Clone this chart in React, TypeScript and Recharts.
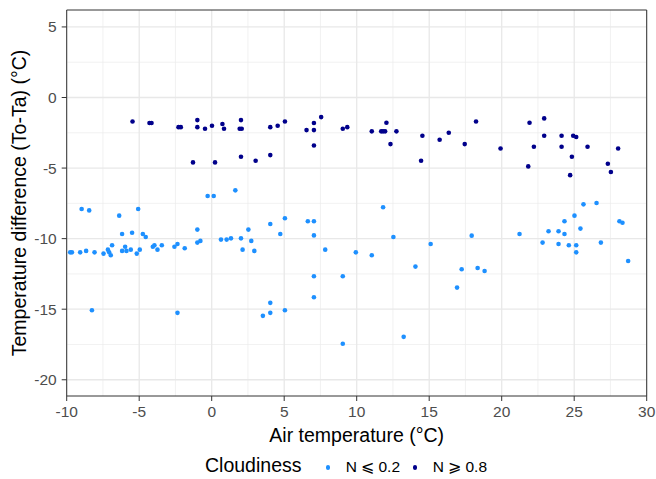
import {
  ScatterChart,
  Scatter,
  XAxis,
  YAxis,
  CartesianGrid,
  ReferenceArea,
  Legend,
  Label,
} from "recharts";

// N <= 0.2 (clear sky)
const clearX = [
  -9.76, -9.64, -9.07, -8.66, -8.08, -8.97, -8.45, -7.46, -7.16, -7.07, -6.96, -6.87, -6.38, -6.18,
  -6.18, -5.97, -5.88, -5.58, -5.49, -5.17, -4.96, -5.07, -4.75, -4.55, -4.06, -3.95, -3.74, -3.44,
  -2.57, -2.36, -1.86, -0.99, -0.99, -0.78, -0.28, 0.14, 0.64, 1.03, 1.33, 1.63, 2.02, 2.13, 2.53,
  2.73, 2.94, 4.04, 4.73, 5.05, 6.63, 7.05, 7.05, 7.83, 9.94, 7.05, 9.04, 11.82, 11.04, 12.53, 14.05,
  15.1, 17.24, 17.93, 18.34, 18.82, 21.23, 22.82, 23.23, 23.92, 23.92, 24.33, 24.33, 24.63, 25.02,
  25.14, 25.14, 25.43, 25.64, 26.54, 26.84, 28.12, 28.33, 28.72, -8.26, -2.36, 3.53, 4.04, 4.04,
  5.05, 7.05, 9.04, 13.24, 16.92,
];
const clearY = [
  -10.97, -10.97, -10.97, -10.87, -10.97, -7.9, -8.0, -11.06, -10.78, -10.97, -11.18, -10.47, -8.37,
  -9.67, -10.87, -10.57, -10.87, -10.78, -9.58, -11.06, -10.78, -7.9, -9.67, -9.88, -10.57, -10.47,
  -10.78, -10.47, -10.57, -10.38, -10.68, -9.36, -10.28, -10.16, -6.98, -6.98, -10.07, -10.07, -9.98,
  -6.58, -9.98, -10.78, -9.36, -10.16, -10.87, -8.96, -9.67, -8.56, -8.77, -8.77, -9.77, -10.78,
  -10.97, -12.67, -12.67, -7.78, -11.18, -9.88, -11.98, -10.38, -12.17, -9.79, -12.08, -12.29, -9.67,
  -10.28, -9.48, -9.48, -10.38, -8.77, -9.67, -10.47, -8.37, -10.47, -10.97, -9.29, -7.57, -7.47,
  -10.28, -8.77, -8.87, -11.58, -15.07, -15.26, -15.47, -14.55, -15.26, -15.07, -14.15, -17.45,
  -16.96, -13.47,
];

// N >= 0.8 (overcast)
const cloudyX = [
  -5.46, -4.29, -4.15, -2.29, -2.13, -0.99, -0.99, -0.46, 0.02, 0.74, 0.85, 2.02, 1.93, 2.07, 4.04,
  4.55, 5.05, 6.54, 7.05, 7.05, 7.55, 7.05, 9.04, 9.35, -1.29, 0.23, 2.02, 3.03, 4.04, 11.04, 11.69,
  11.82, 11.96, 12.05, 12.33, 12.74, 14.53, 14.44, 15.72, 16.35, 17.45, 18.23, 19.92, 21.92, 21.83,
  22.22, 22.93, 22.93, 24.13, 24.13, 24.93, 25.14, 24.84, 24.72, 25.92, 27.32, 27.53, 28.03,
];
const cloudyY = [
  -1.7, -1.81, -1.81, -2.1, -2.1, -1.6, -2.1, -2.21, -2.0, -1.88, -2.21, -1.6, -2.21, -2.21, -2.1,
  -2.0, -1.7, -2.31, -1.81, -2.31, -1.39, -3.4, -2.21, -2.1, -4.6, -4.6, -4.2, -4.48, -4.08, -2.4,
  -2.4, -2.4, -2.4, -1.79, -3.3, -2.4, -2.71, -4.48, -2.99, -2.5, -3.3, -1.7, -3.61, -1.79, -4.88,
  -3.49, -1.48, -2.71, -2.71, -3.49, -2.71, -2.8, -4.2, -5.5, -3.49, -4.69, -5.28, -3.61,
];

const xTicks = [-10, -5, 0, 5, 10, 15, 20, 25, 30];
const xMinor = [-7.5, -2.5, 2.5, 7.5, 12.5, 17.5, 22.5, 27.5];
const yTicks = [-20, -15, -10, -5, 0, 5];
const yMinor = [-17.5, -12.5, -7.5, -2.5, 2.5];

const X_DOMAIN: [number, number] = [-10, 30];
const Y_DOMAIN: [number, number] = [-21.15, 6.2];

const CLEAR_COLOR = "#1E90FF";
const CLOUDY_COLOR = "#00008B";
const FONT = "'Liberation Sans', Arial, sans-serif";

const clearData = clearX.map((x, i) => ({ x, y: clearY[i] }));
const cloudyData = cloudyX.map((x, i) => ({ x, y: cloudyY[i] }));

const dot = (color: string) => (props: any) =>
  <circle cx={props.cx} cy={props.cy} r={2.3} fill={color} />;

const renderLegend = () => (
  <div style={{ position: "relative", height: 26, fontFamily: FONT, color: "#000" }}>
    <span style={{ position: "absolute", left: 205, top: 1, fontSize: 19.5 }}>Cloudiness</span>
    <span
      style={{
        position: "absolute", left: 325.5, top: 12, width: 4.6, height: 4.6,
        borderRadius: "50%", background: CLEAR_COLOR,
      }}
    />
    <span style={{ position: "absolute", left: 345.7, top: 4.5, fontSize: 15.5 }}>N ⩽ 0.2</span>
    <span
      style={{
        position: "absolute", left: 412.7, top: 12, width: 4.6, height: 4.6,
        borderRadius: "50%", background: CLOUDY_COLOR,
      }}
    />
    <span style={{ position: "absolute", left: 432.7, top: 4.5, fontSize: 15.5 }}>N ⩾ 0.8</span>
  </div>
);

const App = () => {
  return (
    <div style={{ position: "absolute", top: 0, left: 0, background: "#fff" }}>
      <ScatterChart
        width={656}
        height={479}
        margin={{ top: 10, right: 9.3, bottom: 0, left: 0 }}
        style={{ fontFamily: FONT }}
      >
        <CartesianGrid
          horizontalValues={yMinor}
          verticalValues={xMinor}
          stroke="#EBEBEB"
          strokeWidth={0.7}
        />
        <CartesianGrid
          horizontalValues={yTicks}
          verticalValues={xTicks}
          stroke="#E8E8E8"
          strokeWidth={1.3}
        />
        <XAxis
          type="number"
          dataKey="x"
          domain={X_DOMAIN}
          ticks={xTicks}
          interval={0}
          allowDataOverflow
          height={57}
          axisLine={false}
          tickLine={{ stroke: "#333333" }}
          tickSize={5}
          tickMargin={5}
          tick={{ fill: "#4D4D4D", fontSize: 15.5 }}
        >
          <Label
            value="Air temperature (°C)"
            position="insideBottom"
            offset={11}
            fill="#000"
            fontSize={19.5}
          />
        </XAxis>
        <YAxis
          type="number"
          dataKey="y"
          domain={Y_DOMAIN}
          ticks={yTicks}
          interval={0}
          allowDataOverflow
          width={66.7}
          axisLine={false}
          tickLine={{ stroke: "#333333" }}
          tickSize={5}
          tickMargin={5}
          tick={{ fill: "#4D4D4D", fontSize: 15.5 }}
        >
          <Label
            content={() => (
              <text
                x={25.5}
                y={203}
                transform="rotate(-90 25.5 203)"
                textAnchor="middle"
                fill="#000"
                fontSize={19.5}
              >
                Temperature difference (To-Ta) (°C)
              </text>
            )}
          />
        </YAxis>
        <ReferenceArea
          x1={X_DOMAIN[0]}
          x2={X_DOMAIN[1]}
          y1={Y_DOMAIN[0]}
          y2={Y_DOMAIN[1]}
          fill="none"
          stroke="#333333"
          strokeWidth={1}
        />
        <Scatter name="N ⩽ 0.2" data={clearData} shape={dot(CLEAR_COLOR)} isAnimationActive={false} />
        <Scatter name="N ⩾ 0.8" data={cloudyData} shape={dot(CLOUDY_COLOR)} isAnimationActive={false} />
        <Legend verticalAlign="bottom" content={renderLegend} wrapperStyle={{ height: 26 }} />
      </ScatterChart>
    </div>
  );
};

export default App;
